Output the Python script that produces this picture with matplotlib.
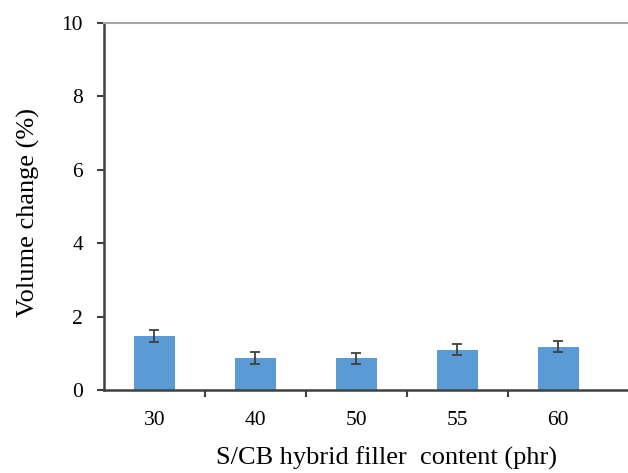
import matplotlib
matplotlib.use("Agg")
import matplotlib.pyplot as plt
import numpy as np

categories = ["30", "40", "50", "55", "60"]
values = [1.48, 0.87, 0.86, 1.10, 1.18]
errors = [0.16, 0.16, 0.14, 0.15, 0.15]
yticks = [0, 2, 4, 6, 8, 10]

plt.rcParams['font.family'] = ['Liberation Serif', 'DejaVu Serif']

fig = plt.figure(figsize=(6.28, 4.73), dpi=100)
W, H = 628, 473
ax = fig.add_axes([104 / W, (H - 390) / H, (W - 104) / W, (390 - 23) / H])

x = np.arange(len(categories))
ax.bar(x, values, width=0.4, color='#5B9BD5', zorder=2)
ax.errorbar(x, values, yerr=errors, fmt='none', ecolor='#404040',
            elinewidth=1.3, capsize=3.5, capthick=1.3, zorder=3)

ax.set_xlim(-0.5, 4.69)
ax.set_ylim(0, 10)
ax.set_yticks(yticks)
ax.set_yticklabels([str(t) for t in yticks], fontsize=15.5)
ax.set_xticks(x)
ax.set_xticklabels(categories, fontsize=15.5)
ax.set_xticks(np.arange(0.5, 4.0, 1.0), minor=True)
ax.tick_params(axis='x', which='major', length=0, pad=15)
ax.tick_params(axis='x', which='minor', length=5, width=1.5, color='#404040', direction='out')
ax.tick_params(axis='y', length=5, width=1.5, color='#404040', direction='out', pad=10)

for side in ['left', 'bottom']:
    ax.spines[side].set_color('#404040')
    ax.spines[side].set_linewidth(1.8)
ax.spines['right'].set_visible(False)
ax.spines['top'].set_color('#A6A6A6')
ax.spines['top'].set_linewidth(1.5)

ax.set_xlabel("S/CB hybrid filler  content (phr)", fontsize=19)
ax.set_ylabel("Volume change (%)", fontsize=19)
ax.xaxis.set_label_coords(0.539, -0.155)
ax.yaxis.set_label_coords(-0.122, 0.484)

fig.savefig("out.png", dpi=100)
